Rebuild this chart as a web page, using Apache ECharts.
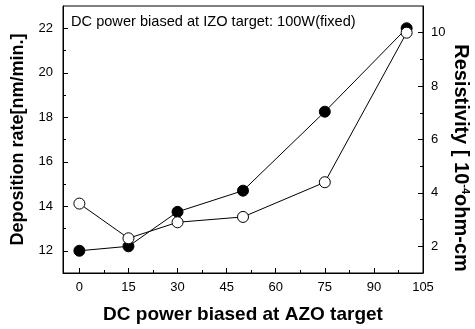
<!DOCTYPE html>
<html>
<head>
<meta charset="utf-8">
<script src="https://cdn.jsdelivr.net/npm/echarts@6/dist/echarts.min.js"></script>
<style>
  html, body { margin: 0; padding: 0; background: #fff; }
  #main { width: 475px; height: 329px; }
</style>
</head>
<body>
<div id="main"></div>
<script>
var powerAZO = [0, 15, 30, 50, 75, 100];
var depositionRate = [12.0, 12.2, 13.75, 14.7, 18.25, 22.0];
var resistivity = [3.6, 2.3, 2.9, 3.1, 4.4, 10.0];

var xTicks = [0, 15, 30, 45, 60, 75, 90, 105];
var xMinorTicks = [7.5, 22.5, 37.5, 52.5, 67.5, 82.5, 97.5];
var leftTicks = [12, 14, 16, 18, 20, 22];
var leftMinorTicks = [13, 15, 17, 19, 21];
var rightTicks = [2, 4, 6, 8, 10];
var rightMinorTicks = [3, 5, 7, 9];

var dom = document.getElementById('main');
var myChart = echarts.init(dom);

var tickFont = {
  color: '#000',
  fontFamily: 'Liberation Sans',
  fontSize: 13
};

// extra axis with the same scale, only used for the short minor ticks
function minorAxis(extra) {
  var ax = {
    type: 'value',
    axisLine: { show: false, onZero: false },
    axisLabel: { show: false },
    splitLine: { show: false }
  };
  for (var k in extra) ax[k] = extra[k];
  return ax;
}

var option = {
  animation: false,
  textStyle: { fontFamily: 'Liberation Sans' },
  grid: {
    left: 63,
    right: 52,
    top: 6,
    bottom: 56,
    show: true,
    borderColor: '#000',
    borderWidth: 1
  },
  graphic: [
    {
      type: 'text',
      left: 71,
      top: 14,
      style: {
        text: 'DC power biased at IZO target: 100W(fixed)',
        font: '14.6px "Liberation Sans"',
        fill: '#000'
      }
    },
    {
      type: 'text',
      x: 461,
      y: 158,
      rotation: -Math.PI / 2,
      style: {
        text: '{n|Resistivity [ 10}{s|-4}{n|ohm-cm}',
        align: 'center',
        verticalAlign: 'middle',
        rich: {
          n: { font: 'bold 20px "Liberation Sans"', fill: '#000' },
          s: { font: 'bold 11px "Liberation Sans"', fill: '#000', verticalAlign: 'top', padding: [0, 0, 9, 0] }
        }
      }
    }
  ],
  xAxis: [
    {
      type: 'value',
      min: -5,
      max: 105,
      name: 'DC power biased at AZO target',
      nameLocation: 'middle',
      nameGap: 32,
      nameTextStyle: { fontSize: 19, fontWeight: 'bold', color: '#000' },
      axisLine: { show: true, onZero: false, lineStyle: { color: '#000', width: 1 } },
      axisTick: {
        show: true,
        inside: true,
        length: 5,
        customValues: xTicks,
        lineStyle: { color: '#000' }
      },
      axisLabel: Object.assign({ customValues: xTicks, margin: 8 }, tickFont),
      splitLine: { show: false }
    },
    minorAxis({
      min: -5,
      max: 105,
      position: 'bottom',
      axisTick: {
        show: true, inside: true, length: 3,
        customValues: xMinorTicks,
        lineStyle: { color: '#000' }
      }
    })
  ],
  yAxis: [
    {
      type: 'value',
      min: 11,
      max: 23,
      position: 'left',
      name: 'Deposition rate[nm/min.]',
      nameLocation: 'middle',
      nameGap: 36,
      nameRotate: 90,
      nameTextStyle: { fontSize: 18, fontWeight: 'bold', color: '#000' },
      axisLine: { show: true, onZero: false, lineStyle: { color: '#000', width: 1 } },
      axisTick: {
        show: true,
        inside: true,
        length: 5,
        customValues: leftTicks,
        lineStyle: { color: '#000' }
      },
      axisLabel: Object.assign({ customValues: leftTicks, margin: 10 }, tickFont),
      splitLine: { show: false }
    },
    {
      type: 'value',
      min: 1,
      max: 11,
      position: 'right',
      axisLine: { show: true, onZero: false, lineStyle: { color: '#000', width: 1 } },
      axisTick: {
        show: true,
        inside: true,
        length: 5,
        customValues: rightTicks,
        lineStyle: { color: '#000' }
      },
      axisLabel: Object.assign({ customValues: rightTicks, margin: 8 }, tickFont),
      splitLine: { show: false }
    },
    minorAxis({
      min: 11,
      max: 23,
      position: 'left',
      axisTick: {
        show: true, inside: true, length: 3,
        customValues: leftMinorTicks,
        lineStyle: { color: '#000' }
      }
    }),
    minorAxis({
      min: 1,
      max: 11,
      position: 'right',
      axisTick: {
        show: true, inside: true, length: 3,
        customValues: rightMinorTicks,
        lineStyle: { color: '#000' }
      }
    })
  ],
  series: [
    {
      name: 'Deposition rate',
      type: 'line',
      xAxisIndex: 0,
      yAxisIndex: 0,
      data: powerAZO.map(function (x, i) { return [x, depositionRate[i]]; }),
      symbol: 'circle',
      symbolSize: 11,
      lineStyle: { color: '#000', width: 1 },
      itemStyle: { color: '#000', borderColor: '#000', borderWidth: 1 },
      z: 2
    },
    {
      name: 'Resistivity',
      type: 'line',
      xAxisIndex: 0,
      yAxisIndex: 1,
      data: powerAZO.map(function (x, i) { return [x, resistivity[i]]; }),
      symbol: 'circle',
      symbolSize: 11,
      lineStyle: { color: '#000', width: 1 },
      itemStyle: { color: '#fff', borderColor: '#000', borderWidth: 1 },
      z: 3
    }
  ]
};

myChart.setOption(option, true);
</script>
</body>
</html>
